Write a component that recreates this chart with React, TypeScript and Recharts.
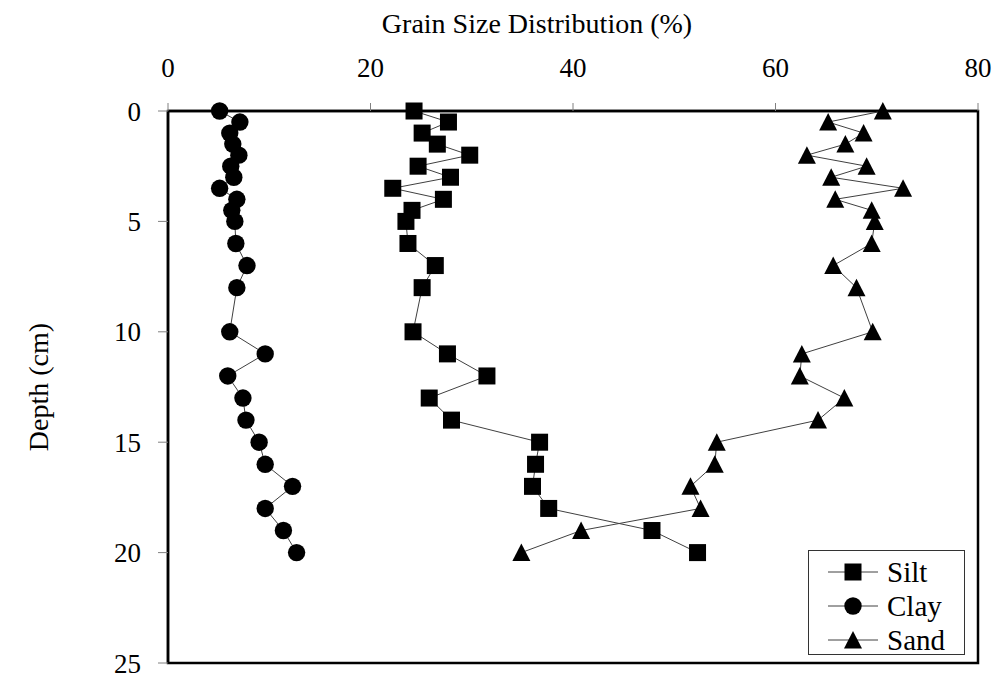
import React from 'react';
import {
  ScatterChart,
  Scatter,
  XAxis,
  YAxis,
  Label,
  Legend,
  ReferenceArea,
} from 'recharts';

// sampling depths (cm)
const DEPTH = [0, 0.5, 1, 1.5, 2, 2.5, 3, 3.5, 4, 4.5, 5, 6, 7, 8, 10, 11, 12, 13, 14, 15, 16, 17, 18, 19, 20];

// percentage of each fraction at those depths
const SILT = [24.3, 27.7, 25.1, 26.6, 29.8, 24.7, 27.9, 22.2, 27.2, 24.1, 23.5, 23.7, 26.4, 25.1, 24.2, 27.6, 31.5, 25.8, 28.0, 36.7, 36.3, 36.0, 37.6, 47.8, 52.3];
const CLAY = [5.1, 7.1, 6.1, 6.4, 7.0, 6.2, 6.5, 5.1, 6.8, 6.3, 6.6, 6.7, 7.8, 6.8, 6.1, 9.6, 5.9, 7.4, 7.7, 9.0, 9.6, 12.3, 9.6, 11.4, 12.7];
const SAND = [70.6, 65.2, 68.7, 66.9, 63.1, 69.0, 65.5, 72.6, 65.9, 69.5, 69.8, 69.5, 65.7, 68.0, 69.6, 62.6, 62.4, 66.8, 64.2, 54.2, 54.0, 51.6, 52.6, 40.8, 34.9];

const X_TICKS = [0, 20, 40, 60, 80];
const Y_TICKS = [0, 5, 10, 15, 20, 25];

const toPoints = (vals: number[]) => DEPTH.map((d, i) => ({ pct: vals[i], depth: d }));

const FONT = 'Liberation Serif, DejaVu Serif, Tinos, Times New Roman, serif';
const LINE = '#404040';

const SquareDot = ({ cx, cy }: any) => (
  <rect x={cx - 8.5} y={cy - 8.5} width={17} height={17} fill="#000" />
);
const CircleDot = ({ cx, cy }: any) => <circle cx={cx} cy={cy} r={8.7} fill="#000" />;
const TriangleDot = ({ cx, cy }: any) => (
  <polygon points={`${cx},${cy - 9} ${cx + 9},${cy + 8.5} ${cx - 9},${cy + 8.5}`} fill="#000" />
);

const SERIES = [
  { name: 'Silt', values: SILT, Dot: SquareDot },
  { name: 'Clay', values: CLAY, Dot: CircleDot },
  { name: 'Sand', values: SAND, Dot: TriangleDot },
];

function LegendBox() {
  return (
    <div
      style={{
        border: '1px solid #333',
        background: '#fff',
        width: 157,
        height: 105,
        boxSizing: 'border-box',
        padding: '4px 0 0 0',
        fontFamily: FONT,
        fontSize: 29,
        color: '#000',
      }}
    >
      {SERIES.map(({ name, Dot }) => (
        <div key={name} style={{ display: 'flex', alignItems: 'center', height: 34 }}>
          <svg width={78} height={34} style={{ flex: 'none' }}>
            <line x1={19} y1={17} x2={69} y2={17} stroke={LINE} strokeWidth={1} />
            <Dot cx={44} cy={17} />
          </svg>
          <span style={{ lineHeight: '34px' }}>{name}</span>
        </div>
      ))}
    </div>
  );
}

export default function App() {
  return (
    <div style={{ position: 'absolute', left: 0, top: 0, background: '#fff', fontFamily: FONT }}>
      <ScatterChart
        width={1000}
        height={682}
        margin={{ top: 61, right: 22, bottom: 19, left: 28 }}
        style={{ fontFamily: FONT }}
      >
        <XAxis
          type="number"
          dataKey="pct"
          orientation="top"
          domain={[0, 80]}
          ticks={X_TICKS}
          height={50}
          tickSize={8}
          tickMargin={26}
          axisLine={{ stroke: '#000', strokeWidth: 2.5 }}
          tickLine={{ stroke: '#808080', strokeWidth: 1 }}
          tick={{ fill: '#000', fontSize: 27, fontFamily: FONT }}
        >
          <Label
            value="Grain Size Distribution (%)"
            position="top"
            offset={28}
            dx={-36}
            fontFamily={FONT}
            style={{ fill: '#000', fontSize: 28, fontFamily: FONT }}
          />
        </XAxis>
        <YAxis
          type="number"
          dataKey="depth"
          reversed
          domain={[0, 25]}
          ticks={Y_TICKS}
          width={140}
          tickSize={10}
          tickMargin={17}
          axisLine={{ stroke: '#000', strokeWidth: 2.5 }}
          tickLine={{ stroke: '#808080', strokeWidth: 1 }}
          tick={{ fill: '#000', fontSize: 27, fontFamily: FONT }}
        >
          <Label
            value="Depth (cm)"
            angle={-90}
            position="insideLeft"
            offset={10}
            fontFamily={FONT}
            style={{ fill: '#000', fontSize: 28, fontFamily: FONT, textAnchor: 'middle' }}
          />
        </YAxis>
        <ReferenceArea
          x1={0}
          x2={80}
          y1={0}
          y2={25}
          fill="none"
          stroke="#000"
          strokeWidth={2.5}
          ifOverflow="visible"
        />
        {SERIES.map(({ name, values, Dot }) => (
          <Scatter
            key={name}
            name={name}
            data={toPoints(values)}
            line={{ stroke: LINE, strokeWidth: 1 }}
            lineType="joint"
            shape={(p: any) => <Dot cx={p.cx} cy={p.cy} />}
            isAnimationActive={false}
          />
        ))}
        <Legend
          layout="vertical"
          align="center"
          verticalAlign="middle"
          content={() => <LegendBox />}
          wrapperStyle={{ left: 808, top: 550, width: 157, height: 105 }}
        />
      </ScatterChart>
    </div>
  );
}
